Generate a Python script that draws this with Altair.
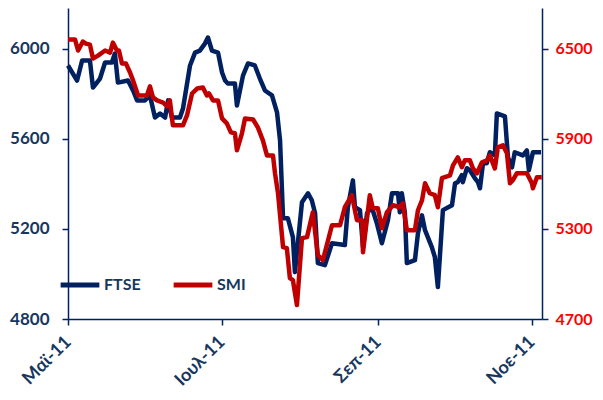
import altair as alt
import pandas as pd

# days since 2011-05-01 and index levels
ftse_day = [0, 3.6, 5.6, 8.7, 9.9, 12.7, 14.7, 17.4, 18.6, 19.8, 23.8, 25.8, 27.4, 30.5, 32.5,
            34.5, 36.5, 38.5, 39.7, 41.2, 44.4, 45.6, 48.4, 50.4, 52.3, 54.3, 55.5, 57.1, 59.5,
            61.1, 62.3, 63.4, 66.2, 67.0, 69.4, 71.4, 74.1, 76.1, 78.1, 80.9, 82.9, 84.1, 85.3,
            87.2, 89.2, 90.0, 92.8, 95.2, 96.7, 98.0, 99.1, 101.9, 104.7, 109.8, 111.0, 113.0,
            113.8, 115.8, 117.0, 118.6, 120.5, 122.5, 124.5, 126.9, 128.5, 130.9, 131.6, 132.4,
            133.6, 134.4, 137.6, 138.8, 140.4, 141.6, 144.3, 145.5, 146.7, 148.7, 152.3, 153.5,
            154.6, 156.2, 156.6, 158.2, 159.4, 161.4, 162.6, 163.4, 164.6, 166.1, 167.3, 169.3,
            170.1, 173.3, 174.5, 176.1, 177.2, 180.4, 182.0, 182.8, 184.4, 187.6]
ftse_val = [5925, 5858, 5947, 5947, 5827, 5867, 5938, 5938, 5978, 5849, 5858, 5814, 5770, 5770, 5792,
            5694, 5712, 5694, 5770, 5694, 5694, 5734, 5925, 5982, 5991, 6022, 6049, 5991, 5982,
            5894, 5858, 5845, 5845, 5747, 5880, 5934, 5925, 5867, 5814, 5792, 5717, 5593, 5247,
            5247, 5163, 5008, 5318, 5358, 5327, 5269, 5048, 5039, 5136, 5128, 5296, 5415,
            5296, 5283, 5119, 5269, 5296, 5225, 5136, 5238, 5358, 5358, 5274, 5358,
            5274, 5048, 5061, 5181, 5260, 5194, 5119, 5075, 4942, 5283, 5305, 5402,
            5407, 5438, 5407, 5469, 5460, 5424, 5407, 5380, 5491, 5491, 5540, 5526,
            5712, 5699, 5517, 5473, 5540, 5526, 5548, 5460, 5540, 5540]

smi_day = [0, 2.8, 4.0, 5.9, 7.1, 8.7, 9.9, 11.9, 14.7, 16.7, 17.8, 19.4, 20.2, 21.4, 23.0, 24.6,
           25.8, 27.8, 31.3, 32.5, 33.7, 35.3, 37.7, 39.3, 40.4, 41.6, 45.6, 47.2, 49.2, 51.2,
           53.5, 55.1, 55.9, 57.5, 59.5, 61.1, 63.0, 64.6, 66.2, 67.0, 69.0, 70.2, 73.4, 75.3,
           77.3, 78.9, 81.3, 82.1, 83.3, 85.3, 86.8, 88.0, 89.2, 90.8, 92.8, 94.8, 97.1, 99.1,
           101.1, 104.7, 107.9, 109.8, 112.6, 114.6, 116.6, 117.0, 119.7, 120.9, 122.9, 124.5,
           126.5, 128.9, 131.6, 132.8, 134.4, 137.6, 138.8, 140.4, 141.6, 143.5, 145.5, 146.7,
           148.3, 151.5, 152.7, 154.6, 156.2, 157.4, 159.4, 160.6, 162.2, 164.2, 166.1, 167.3,
           169.3, 170.5, 172.5, 174.1, 175.3, 176.4, 178.0, 182.0, 184.0, 184.4, 186.0, 187.9]
smi_val = [6560, 6560, 6487, 6547, 6533, 6526, 6434, 6453, 6487, 6473, 6540, 6487, 6487, 6400, 6400, 6341,
           6288, 6188, 6188, 6248, 6175, 6155, 6141, 6115, 6155, 5989, 5989, 6055, 6201, 6234,
           6241, 6188, 6201, 6155, 6155, 6035, 6002, 5942, 5936, 5823, 5936, 6035, 6028, 5975,
           5889, 5789, 5789, 5670, 5537, 5178, 5172, 4972, 4959, 4793, 5238, 5245, 5411, 5125,
           5092, 5324, 5324, 5444, 5524, 5358, 5358, 5145, 5524, 5437, 5437, 5304,
           5411, 5457, 5444, 5470, 5291, 5291, 5424, 5490, 5603, 5537, 5524, 5444,
           5637, 5656, 5723, 5776, 5710, 5756, 5756, 5703, 5670, 5743, 5756, 5789,
           5703, 5842, 5856, 5803, 5603, 5623, 5670, 5670, 5603, 5570, 5643, 5643]

series_names = ["FTSE", "SMI"]
left_ticks = [4800, 5200, 5600, 6000]
right_ticks = [4700, 5300, 5900, 6500]
greek_months = ["Ιαν", "Φεβ", "Μαρ", "Απρ", "Μαϊ", "Ιουν", "Ιουλ", "Αυγ", "Σεπ", "Οκτ", "Νοε", "Δεκ"]

start = pd.Timestamp("2011-05-01")
ftse = pd.DataFrame({"date": start + pd.to_timedelta(ftse_day, unit="D"),
                     "value": ftse_val, "series": "FTSE"})
smi = pd.DataFrame({"date": start + pd.to_timedelta(smi_day, unit="D"),
                    "value": smi_val, "series": "SMI"})

NAVY = "#002060"
RED = "#C00000"
TXT = "#17375E"
FONT = "Lato, 'Open Sans', sans-serif"

month_arr = "[" + ",".join("'%s'" % m for m in greek_months) + "]"
x_enc = alt.X(
    "date:T",
    title=None,
    scale=alt.Scale(domain=[alt.DateTime(year=2011, month=5, date=1),
                            alt.DateTime(year=2011, month=11, date=5)]),
    axis=alt.Axis(
        values=[alt.DateTime(year=2011, month=m, date=1) for m in (5, 7, 9, 11)],
        labelExpr=month_arr + "[month(datum.value)] + '-' + timeFormat(datum.value, '%y')",
        labelAngle=-45, labelAlign="right", labelBaseline="middle",
        labelFont=FONT, labelFontSize=18, labelFontWeight="bold", labelColor=TXT,
        labelPadding=14, tickSize=6, tickColor=NAVY, tickWidth=1.5,
        domainColor=NAVY, domainWidth=1.5, grid=False,
    ),
)

color = alt.Color(
    "series:N",
    scale=alt.Scale(domain=series_names, range=[NAVY, RED]),
    legend=alt.Legend(
        title=None, orient="none", legendX=-10, legendY=255, direction="horizontal",
        symbolType="stroke", symbolSize=1500, symbolStrokeWidth=5,
        labelFont=FONT, labelFontSize=16, labelFontWeight="bold", labelColor=TXT,
        columnPadding=22, labelOffset=2,
    ),
)

line_ftse = alt.Chart(ftse).mark_line(strokeWidth=4.5, strokeJoin="round").encode(
    x=x_enc,
    y=alt.Y("value:Q", title=None,
            scale=alt.Scale(domain=[4800, 6180], nice=False, zero=False),
            axis=alt.Axis(values=left_ticks, orient="left", format="d", labelFont=FONT,
                          labelFontSize=17, labelFontWeight="bold", labelColor=TXT,
                          labelPadding=13, tickSize=6, tickColor=NAVY, tickWidth=1.5,
                          domainColor=NAVY, domainWidth=1.5, grid=False)),
    color=color,
)

line_smi = alt.Chart(smi).mark_line(strokeWidth=4.5, strokeJoin="round").encode(
    x=x_enc,
    y=alt.Y("value:Q", title=None,
            scale=alt.Scale(domain=[4700, 6770], nice=False, zero=False),
            axis=alt.Axis(values=right_ticks, orient="right", format="d", labelFont=FONT,
                          labelFontSize=16, labelFontWeight="bold", labelColor="#FF0000",
                          labelPadding=7, tickSize=6, tickColor=NAVY, tickWidth=1.5,
                          domainColor=NAVY, domainWidth=1.5, grid=False)),
    color=color,
)

chart = alt.layer(line_ftse, line_smi).resolve_scale(y="independent").properties(
    width=474, height=311,
    autosize=alt.AutoSizeParams(type="none"),
    padding={"left": 60, "top": 0, "right": 53, "bottom": 73},
).configure_view(stroke=None)

chart.save("out.html", embed_options={"renderer": "svg", "actions": False})
